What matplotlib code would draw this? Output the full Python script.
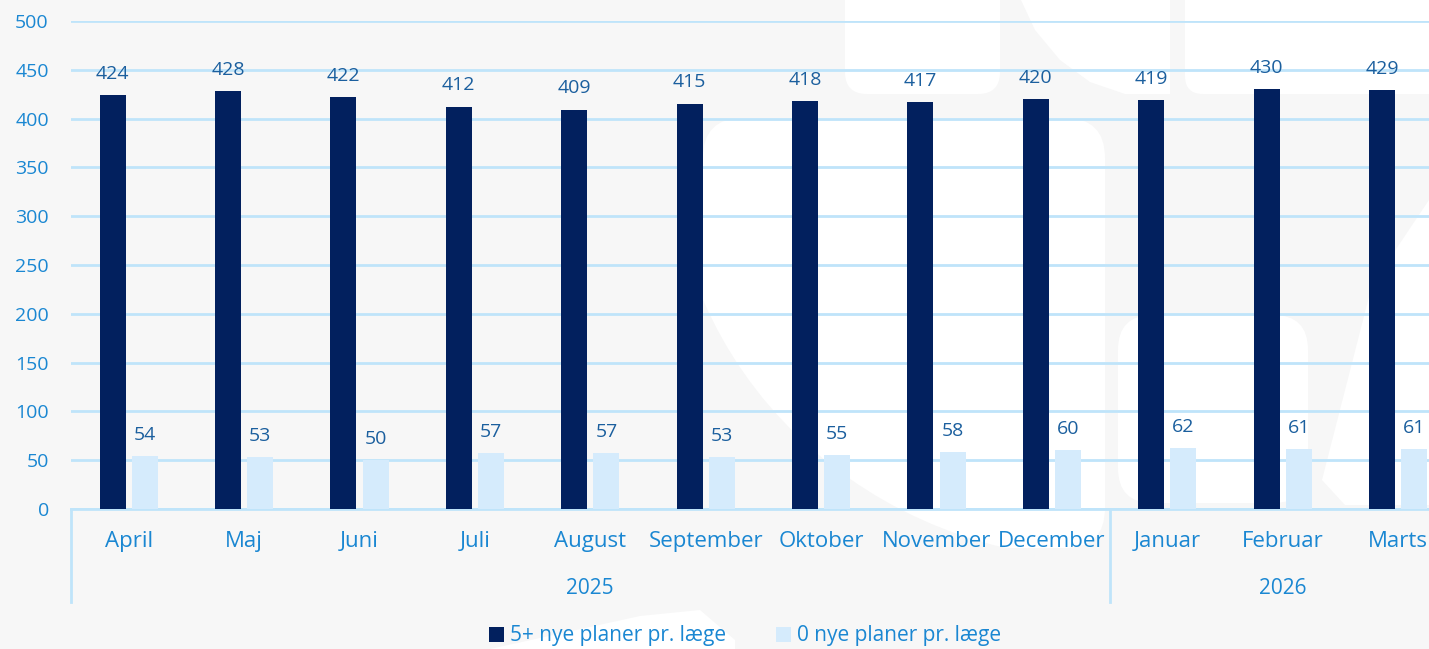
import numpy as np
import matplotlib.pyplot as plt
from matplotlib.patches import FancyBboxPatch, Ellipse, Polygon
from matplotlib.transforms import IdentityTransform

months = ["April", "Maj", "Juni", "Juli", "August", "September", "Oktober",
          "November", "December", "Januar", "Februar", "Marts"]
years = ["2025", "2026"]
year_counts = [9, 3]
plus5 = [424, 428, 422, 412, 409, 415, 418, 417, 420, 419, 430, 429]
zero = [54, 53, 50, 57, 57, 53, 55, 58, 60, 62, 61, 61]
series_names = ["5+ nye planer pr. læge", "0 nye planer pr. læge"]

W, H = 1429, 649
BG = "#f7f7f7"
NAVY = "#02205e"
LIGHT = "#d5ebfc"
GRID = "#bfe4fa"
TXT = "#1a87d2"
LBL = "#1b5f9e"

plt.rcParams["font.family"] = ["Open Sans", "DejaVu Sans"]

fig = plt.figure(figsize=(W / 100, H / 100), dpi=100, facecolor=BG)


# faint logo watermark in the background (pixel coords, y from top)
def wm(p):
    p.set_transform(IdentityTransform())
    p.set_zorder(-10)
    fig.add_artist(p)
    return p


def rrect(x0, y0, x1, y1, r):
    return FancyBboxPatch((x0, H - y1), x1 - x0, y1 - y0,
                          boxstyle="round,pad=0,rounding_size=%d" % r,
                          fc="white", ec="none")


def poly(pts):
    return Polygon([(x, H - y) for x, y in pts], closed=True, fc="white", ec="none")


wm(rrect(845, -40, 1000, 94, 22))
wm(poly([(1021, 0), (1035, 30), (1060, 60), (1090, 82), (1125, 94),
         (1170, 94), (1170, 0)]))
wm(rrect(1185, -40, 1460, 94, 18))
clip_c = rrect(703, 118, 1105, 548, 40)
clip_c.set_transform(IdentityTransform())
circ = wm(Ellipse((1110, H - 140), 880, 840, fc="white", ec="none"))
circ.set_clip_path(clip_c)
wm(rrect(1118, 315, 1308, 503, 35))
wm(poly([(1372, 285), (1429, 200), (1429, 505), (1345, 505), (1322, 480)]))
wm(poly([(490, 649), (640, 616), (700, 610), (735, 640), (735, 649)]))

# axes: extends past the right edge like the original
left = 71 / W
bottom = 1 - 509 / H
ax = fig.add_axes([left, bottom, 12 * 115.4 / W, 488 / H])
ax.set_facecolor("none")

x = np.arange(len(months))
bw = 0.225
b1 = ax.bar(x - 0.14, plus5, bw, color=NAVY, zorder=3, label=series_names[0])
b2 = ax.bar(x + 0.14, zero, bw, color=LIGHT, zorder=3, label=series_names[1])
ax.bar_label(b1, padding=9, color=LBL, fontsize=14)
ax.bar_label(b2, padding=9, color=LBL, fontsize=14)

ax.set_xlim(-0.5, len(months) - 0.5)
ax.set_ylim(0, 500)
ax.set_yticks(range(0, 501, 50))
ax.grid(axis="y", color=GRID, lw=2, zorder=0)
for s in ["left", "right", "top"]:
    ax.spines[s].set_visible(False)
ax.spines["bottom"].set_color(GRID)
ax.spines["bottom"].set_linewidth(2)
ax.tick_params(axis="y", length=0, pad=16, labelcolor=TXT, labelsize=14)
ax.set_xticks(x)
ax.set_xticklabels(months)
ax.tick_params(axis="x", length=0, pad=16, labelcolor=TXT, labelsize=16)

# year groups under the month labels
start = -0.5
ax.plot([start, start], [0, -95], color=GRID, lw=2, clip_on=False)
for yr, n in zip(years, year_counts):
    end = start + n
    ax.plot([end, end], [0, -95], color=GRID, lw=2, clip_on=False)
    ax.text((start + end) / 2, -81, yr, ha="center", va="center",
            color=TXT, fontsize=15)
    start = end

fig.legend(loc="center", bbox_to_anchor=(745 / W, 1 - 636 / H), ncol=2,
           frameon=False, fontsize=15, labelcolor=TXT, handlelength=0.7,
           handleheight=0.7, handletextpad=0.3, columnspacing=2.4)

fig.savefig("out.png", dpi=100, facecolor=BG)
